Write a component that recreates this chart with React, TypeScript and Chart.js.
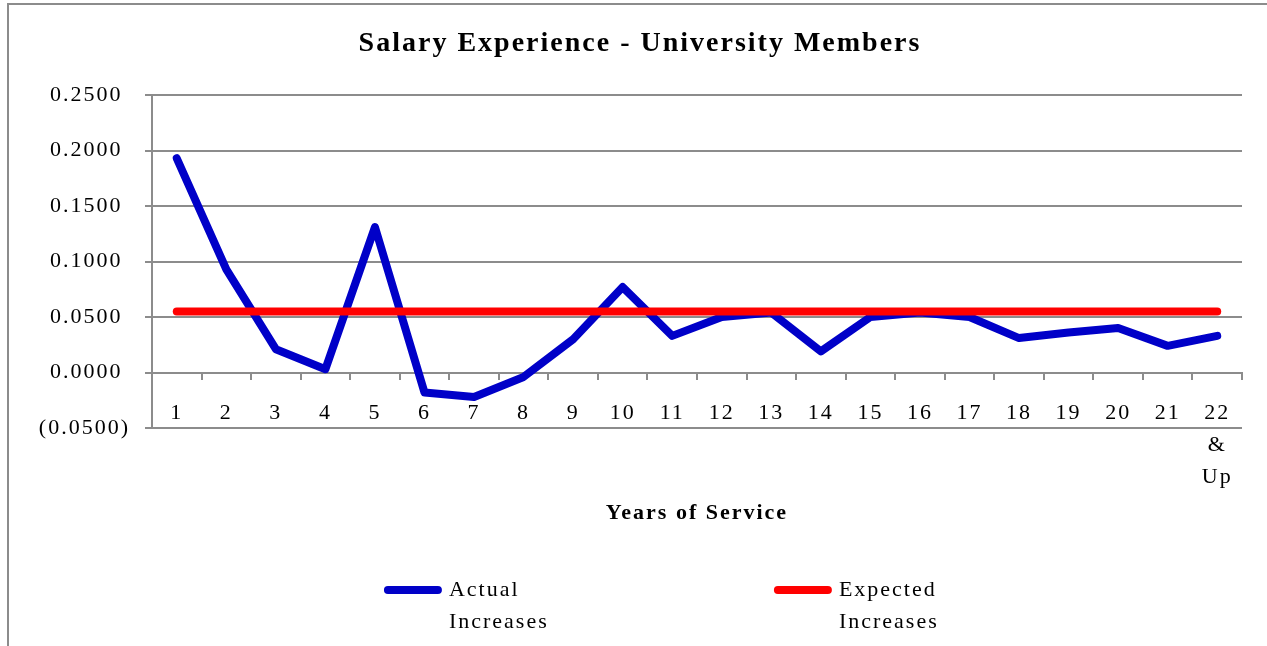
import React, { useEffect, useRef } from 'react';
import { Chart, registerables } from 'chart.js';

Chart.register(...registerables);

const CHART_TITLE = 'Salary Experience - University Members';
const X_AXIS_TITLE = 'Years of Service';

const categories: (string | string[])[] = [
  '1', '2', '3', '4', '5', '6', '7', '8', '9', '10', '11',
  '12', '13', '14', '15', '16', '17', '18', '19', '20', '21',
  ['22', '&', 'Up'],
];

const actualIncreases = [
  0.193, 0.093, 0.021, 0.003, 0.131, -0.018, -0.022, -0.004, 0.030, 0.077, 0.033,
  0.050, 0.054, 0.019, 0.050, 0.054, 0.050, 0.031, 0.036, 0.040, 0.024, 0.033,
];

const expectedIncreases = [
  0.055, 0.055, 0.055, 0.055, 0.055, 0.055, 0.055, 0.055, 0.055, 0.055, 0.055,
  0.055, 0.055, 0.055, 0.055, 0.055, 0.055, 0.055, 0.055, 0.055, 0.055, 0.055,
];

const actualLabel = ['Actual', 'Increases'];
const expectedLabel = ['Expected', 'Increases'];

const yMin = -0.05;
const yMax = 0.25;
const yStep = 0.05;

const GRAY = '#8c8c8c';
const FONT = "'Liberation Serif', 'Times New Roman', serif";
const LEGEND_SHIFT = 19;

const excelLookPlugin = {
  id: 'excelLook',
  afterInit(chart: any) {
    chart.ctx.letterSpacing = '2px';
  },
  beforeUpdate(chart: any) {
    chart.ctx.letterSpacing = '2px';
  },
  afterLayout(chart: any) {
    const lg = chart.legend;
    if (lg) {
      lg.left += LEGEND_SHIFT;
      lg.right += LEGEND_SHIFT;
      lg.bottom = chart.height;
      lg.height = lg.bottom - lg.top;
    }
  },
  beforeDraw(chart: any) {
    chart.ctx.letterSpacing = '2px';
  },
  afterDraw(chart: any) {
    const ctx = chart.ctx;
    ctx.save();
    ctx.strokeStyle = GRAY;
    ctx.lineWidth = 2;
    ctx.beginPath();
    ctx.moveTo(8, chart.height);
    ctx.lineTo(8, 4);
    ctx.lineTo(chart.width, 4);
    ctx.stroke();
    ctx.restore();
  },
};

export default function App() {
  const canvasRef = useRef<HTMLCanvasElement | null>(null);

  useEffect(() => {
    document.body.style.margin = '0';
    const canvas = canvasRef.current;
    if (!canvas) return;

    Chart.defaults.font.family = FONT;
    Chart.defaults.color = '#000';

    const defaultGenerate = (Chart.defaults as any).plugins.legend.labels.generateLabels;

    const chart = new Chart(canvas, {
      type: 'line',
      data: {
        labels: categories,
        datasets: [
          {
            label: actualLabel as any,
            data: actualIncreases,
            borderColor: '#0000c8',
            backgroundColor: '#0000c8',
            borderWidth: 8,
            pointRadius: 0,
            tension: 0,
            borderCapStyle: 'round',
            borderJoinStyle: 'round',
            order: 1,
          },
          {
            label: expectedLabel as any,
            data: expectedIncreases,
            borderColor: '#ff0000',
            backgroundColor: '#ff0000',
            borderWidth: 8,
            pointRadius: 0,
            tension: 0,
            borderCapStyle: 'round',
            borderJoinStyle: 'round',
            order: 0,
          },
        ],
      },
      options: {
        responsive: false,
        animation: false,
        devicePixelRatio: 1,
        layout: { padding: { left: 38, right: 25, top: 0, bottom: 35 } },
        plugins: {
          title: {
            display: true,
            text: CHART_TITLE,
            color: '#000',
            font: { family: FONT, size: 28, weight: 'bold', lineHeight: 1.2 },
            padding: { top: 27, bottom: 34.4 },
          },
          legend: {
            display: true,
            position: 'bottom',
            fullSize: false,
            labels: {
              usePointStyle: true,
              pointStyle: 'line',
              pointStyleWidth: 50,
              padding: 151,
              color: '#000',
              font: { family: FONT, size: 22, lineHeight: 32 / 22 },
              sort: (a: any, b: any) => a.datasetIndex - b.datasetIndex,
              generateLabels: (c: any) =>
                defaultGenerate(c).map((item: any) => ({
                  ...item,
                  lineCap: 'round',
                  lineWidth: 8,
                })),
            },
          },
          tooltip: { enabled: false },
        },
        scales: {
          x: {
            type: 'category',
            position: { y: 0 } as any,
            offset: true,
            grid: {
              display: true,
              drawOnChartArea: false,
              drawTicks: true,
              tickLength: 6,
              offset: true,
              color: GRAY,
              lineWidth: 2,
            },
            border: { display: true, color: GRAY, width: 2 },
            ticks: {
              autoSkip: false,
              maxRotation: 0,
              minRotation: 0,
              padding: 19,
              color: '#000',
              font: { family: FONT, size: 22, lineHeight: 32 / 22 },
            },
            title: {
              display: true,
              text: X_AXIS_TITLE,
              color: '#000',
              font: { family: FONT, size: 22, weight: 'bold', lineHeight: 1.2 },
              padding: { top: 0, bottom: 6 },
            },
            afterFit: (scale: any) => {
              scale.height = 160;
            },
          },
          y: {
            type: 'linear',
            min: yMin,
            max: yMax,
            grid: {
              display: true,
              drawOnChartArea: true,
              drawTicks: true,
              tickLength: 7,
              color: GRAY,
              lineWidth: 2,
            },
            border: { display: true, color: GRAY, width: 2 },
            ticks: {
              stepSize: yStep,
              padding: 15,
              color: '#000',
              font: { family: FONT, size: 22 },
              callback: (v: any) => {
                const r = Math.round(Number(v) * 10000) / 10000;
                return r < 0 ? `(${Math.abs(r).toFixed(4)})` : `${r.toFixed(4)} `;
              },
            },
            afterFit: (scale: any) => {
              scale.width = 114;
            },
          },
        },
      },
      plugins: [excelLookPlugin],
    } as any);

    return () => {
      chart.destroy();
    };
  }, []);

  return (
    <canvas
      ref={canvasRef}
      width={1267}
      height={646}
      style={{ display: 'block', width: '1267px', height: '646px' }}
    />
  );
}
